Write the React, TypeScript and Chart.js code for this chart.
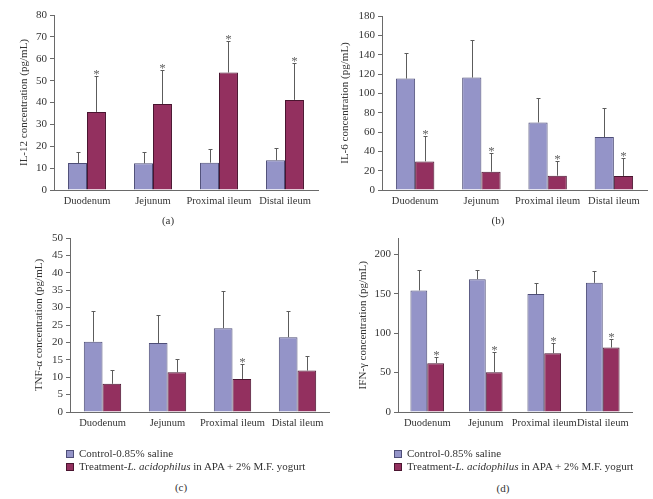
import React, { useEffect, useRef } from "react";
import { Chart, registerables } from "chart.js";

Chart.register(...registerables);

// ---------- data ----------
const categories = ["Duodenum", "Jejunum", "Proximal ileum", "Distal ileum"];
const controlName = "Control-0.85% saline";
const treatmentName = "Treatment-L. acidophilus in APA + 2% M.F. yogurt";

// (a) IL-12
const il12Control = [12.3, 12.2, 12.5, 13.6];
const il12ControlSd = [4.9, 5.0, 6.1, 5.4];
const il12Treatment = [35.7, 39.3, 53.7, 41.2];
const il12TreatmentSd = [16.3, 15.4, 14.4, 16.8];
const il12Sig = [true, true, true, true];

// (b) IL-6
const il6Control = [115.3, 116.3, 69.9, 54.7];
const il6ControlSd = [26.7, 39.2, 25.4, 30.6];
const il6Treatment = [29.6, 18.9, 14.8, 14.5];
const il6TreatmentSd = [26.1, 19.6, 15.5, 18.9];
const il6Sig = [true, true, true, true];

// (c) TNF-alpha
const tnfControl = [20.2, 19.8, 24.1, 21.5];
const tnfControlSd = [8.7, 8.2, 10.6, 7.4];
const tnfTreatment = [8.1, 11.4, 9.5, 11.9];
const tnfTreatmentSd = [3.9, 3.8, 4.25, 4.1];
const tnfSig = [false, false, true, false];

// (d) IFN-gamma
const ifnControl = [154.1, 168.4, 149.5, 163.8];
const ifnControlSd = [26.5, 12.2, 14.7, 15.6];
const ifnTreatment = [61.9, 50.5, 74.5, 81.7];
const ifnTreatmentSd = [7.6, 25.3, 12.7, 10.5];
const ifnSig = [true, true, true, true];

// axis ranges
const il12Axis = { max: 80, step: 10, tickMax: 80 };
const il6Axis = { max: 180, step: 20, tickMax: 180 };
const tnfAxis = { max: 50, step: 5, tickMax: 50 };
const ifnAxis = { max: 220, step: 50, tickMax: 200 };

// ---------- styles ----------
const FONT = '"Liberation Serif", "DejaVu Serif", serif';
const TEXT = "#333333";
const AXIS = "#6a6a6a";
const CONTROL_FILL = "#9494c8";
const CONTROL_BORDER = "#4e4e78";
const TREAT_FILL = "#93305f";
const TREAT_BORDER = "#4a1530";

const errorBarPlugin = {
  id: "errorBars",
  afterDatasetsDraw(chart: any) {
    const { ctx } = chart;
    const yScale = chart.scales.y;
    chart.data.datasets.forEach((ds: any, di: number) => {
      const meta = chart.getDatasetMeta(di);
      meta.data.forEach((bar: any, i: number) => {
        const v = ds.data[i];
        const sd = ds.sd[i];
        const top = Math.round(yScale.getPixelForValue(v + sd)) + 0.5;
        const x = Math.round(bar.x) + 0.5;
        ctx.save();
        ctx.strokeStyle = "#5c5c5c";
        ctx.lineWidth = 1;
        ctx.beginPath();
        ctx.moveTo(x, bar.y);
        ctx.lineTo(x, top);
        ctx.moveTo(x - 2, top);
        ctx.lineTo(x + 2, top);
        ctx.stroke();
        if (ds.sig && ds.sig[i]) {
          ctx.fillStyle = "#666666";
          ctx.font = `13px ${FONT}`;
          ctx.textAlign = "center";
          ctx.textBaseline = "alphabetic";
          ctx.fillText("*", x, top + 1);
        }
        ctx.restore();
      });
    });
  },
};

type PanelProps = {
  left: number;
  top: number;
  width: number;
  height: number;
  padTop: number;
  padRight: number;
  yWidth: number;
  xHeight: number;
  titlePad: number;
  yTitle: string;
  axis: { max: number; step: number; tickMax: number };
  control: number[];
  controlSd: number[];
  treatment: number[];
  treatmentSd: number[];
  sig: boolean[];
  catPct: number;
};

function Panel(p: PanelProps) {
  const ref = useRef<HTMLCanvasElement>(null);
  useEffect(() => {
    if (!ref.current) return;
    const chart = new Chart(ref.current, {
      type: "bar",
      data: {
        labels: categories,
        datasets: [
          {
            label: controlName,
            data: p.control,
            sd: p.controlSd,
            sig: null,
            backgroundColor: CONTROL_FILL,
            borderColor: CONTROL_BORDER,
            borderWidth: 1,
            categoryPercentage: p.catPct,
            barPercentage: 1,
          } as any,
          {
            label: treatmentName,
            data: p.treatment,
            sd: p.treatmentSd,
            sig: p.sig,
            backgroundColor: TREAT_FILL,
            borderColor: TREAT_BORDER,
            borderWidth: 1,
            categoryPercentage: p.catPct,
            barPercentage: 1,
          } as any,
        ],
      },
      options: {
        responsive: false,
        animation: false,
        devicePixelRatio: 1,
        layout: {
          padding: { top: p.padTop, right: p.padRight, bottom: 0, left: 0 },
        },
        plugins: {
          legend: { display: false },
          tooltip: { enabled: false },
        },
        scales: {
          x: {
            grid: { display: false, drawTicks: false },
            border: { display: true, color: AXIS, width: 1 },
            ticks: {
              color: TEXT,
              font: { family: FONT, size: 10.5 },
              padding: 5,
              maxRotation: 0,
              autoSkip: false,
            },
            afterFit(scale: any) {
              scale.height = p.xHeight;
            },
          },
          y: {
            min: 0,
            max: p.axis.max,
            grid: {
              display: true,
              drawOnChartArea: false,
              drawTicks: true,
              tickLength: 4,
              color: AXIS,
            },
            border: { display: true, color: AXIS, width: 1 },
            ticks: {
              stepSize: p.axis.step,
              color: TEXT,
              font: { family: FONT, size: 11 },
              padding: 3,
            },
            title: {
              display: true,
              text: p.yTitle,
              color: TEXT,
              font: { family: FONT, size: 11 },
              padding: { top: p.titlePad, bottom: 0 },
            },
            afterBuildTicks(scale: any) {
              scale.ticks = scale.ticks.filter(
                (t: any) => t.value <= p.axis.tickMax && t.value % p.axis.step === 0
              );
            },
            afterFit(scale: any) {
              scale.width = p.yWidth;
            },
          },
        },
      } as any,
      plugins: [errorBarPlugin],
    });
    return () => chart.destroy();
  }, []);
  return (
    <canvas
      ref={ref}
      width={p.width}
      height={p.height}
      style={{
        position: "absolute",
        left: p.left,
        top: p.top,
        width: p.width,
        height: p.height,
      }}
    />
  );
}

const textStyle: React.CSSProperties = {
  position: "absolute",
  fontFamily: FONT,
  fontSize: 11,
  lineHeight: "13px",
  color: TEXT,
  whiteSpace: "nowrap",
};

function Caption({ x, y, text }: { x: number; y: number; text: string }) {
  return (
    <div style={{ ...textStyle, left: x - 20, top: y - 6.5, width: 40, textAlign: "center" }}>
      {text}
    </div>
  );
}

function Legend({ x, y }: { x: number; y: number }) {
  const sq = (fill: string, border: string, top: number) => (
    <div
      style={{
        position: "absolute",
        left: x,
        top,
        width: 6,
        height: 6,
        background: fill,
        border: `1px solid ${border}`,
      }}
    />
  );
  return (
    <>
      {sq(CONTROL_FILL, CONTROL_BORDER, y - 4)}
      <div style={{ ...textStyle, left: x + 13, top: y - 6.5 }}>{controlName}</div>
      {sq(TREAT_FILL, TREAT_BORDER, y + 9)}
      <div style={{ ...textStyle, left: x + 13, top: y + 6.5 }}>
        Treatment-<i>L. acidophilus</i> in APA + 2% M.F. yogurt
      </div>
    </>
  );
}

export default function App() {
  return (
    <div
      style={{
        position: "absolute",
        left: 0,
        top: 0,
        width: 653,
        height: 499,
        background: "#ffffff",
        overflow: "hidden",
      }}
    >
      <Panel
        left={0}
        top={0}
        width={330}
        height={230}
        padTop={15}
        padRight={12}
        yWidth={54}
        xHeight={40}
        titlePad={18}
        yTitle="IL-12 concentration (pg/mL)"
        axis={il12Axis}
        control={il12Control}
        controlSd={il12ControlSd}
        treatment={il12Treatment}
        treatmentSd={il12TreatmentSd}
        sig={il12Sig}
        catPct={0.575}
      />
      <Panel
        left={330}
        top={0}
        width={323}
        height={230}
        padTop={16}
        padRight={6}
        yWidth={52}
        xHeight={40}
        titlePad={8.5}
        yTitle="IL-6 concentration (pg/mL)"
        axis={il6Axis}
        control={il6Control}
        controlSd={il6ControlSd}
        treatment={il6Treatment}
        treatmentSd={il6TreatmentSd}
        sig={il6Sig}
        catPct={0.58}
      />
      <Panel
        left={0}
        top={228}
        width={330}
        height={210}
        padTop={10}
        padRight={0}
        yWidth={70}
        xHeight={26}
        titlePad={33}
        yTitle="TNF-α concentration (pg/mL)"
        axis={tnfAxis}
        control={tnfControl}
        controlSd={tnfControlSd}
        treatment={tnfTreatment}
        treatmentSd={tnfTreatmentSd}
        sig={tnfSig}
        catPct={0.575}
      />
      <Panel
        left={330}
        top={228}
        width={323}
        height={210}
        padTop={10.5}
        padRight={21}
        yWidth={68}
        xHeight={26}
        titlePad={26.5}
        yTitle="IFN-γ concentration (pg/mL)"
        axis={ifnAxis}
        control={ifnControl}
        controlSd={ifnControlSd}
        treatment={ifnTreatment}
        treatmentSd={ifnTreatmentSd}
        sig={ifnSig}
        catPct={0.575}
      />
      <Caption x={168} y={220} text="(a)" />
      <Caption x={498} y={220} text="(b)" />
      <Legend x={66} y={453.5} />
      <Legend x={394} y={453.5} />
      <Caption x={181} y={487} text="(c)" />
      <Caption x={503} y={488} text="(d)" />
    </div>
  );
}
